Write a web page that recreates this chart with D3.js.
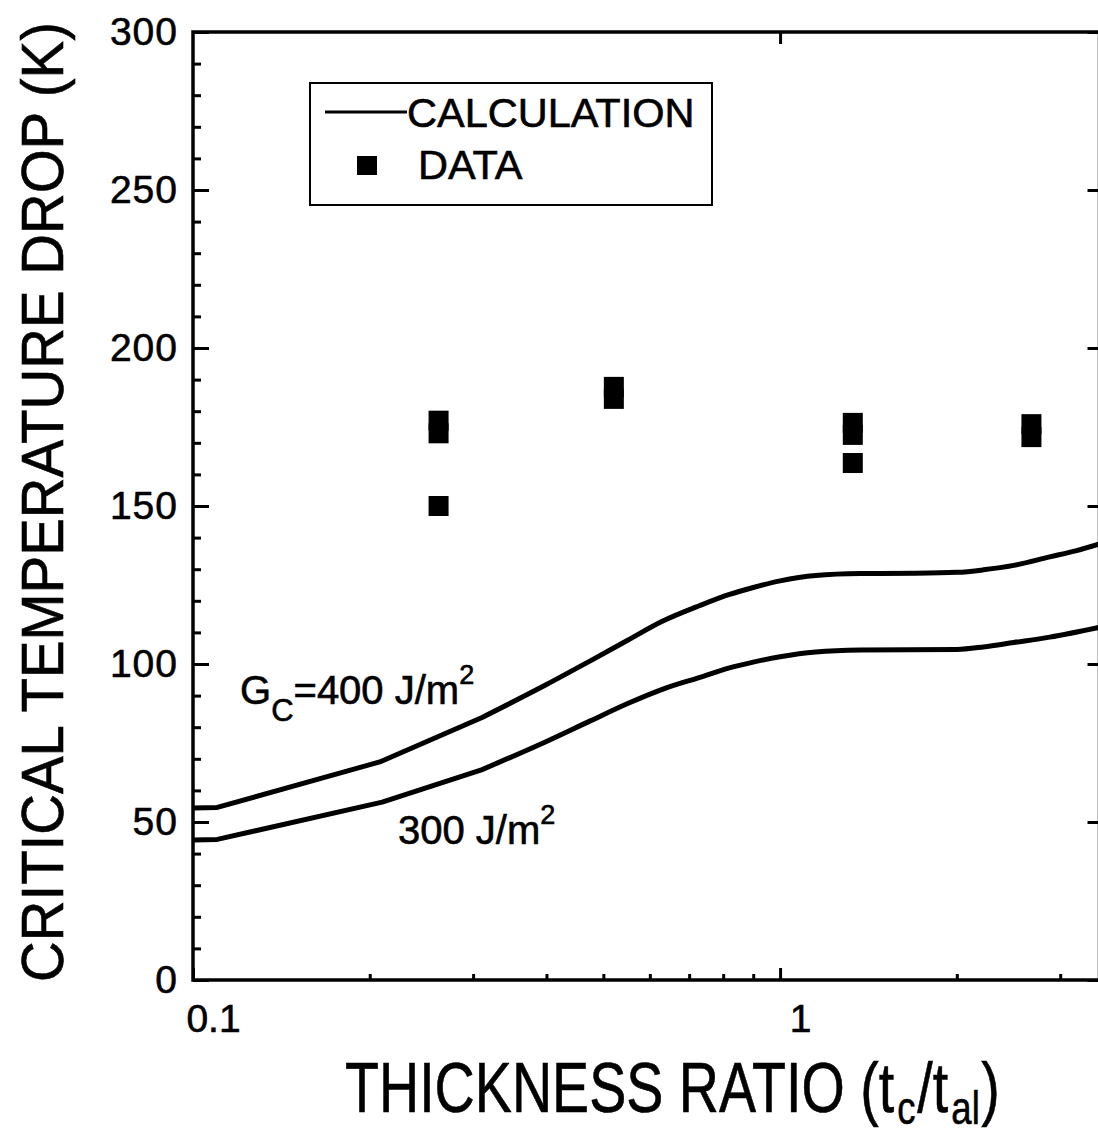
<!DOCTYPE html>
<html>
<head>
<meta charset="utf-8">
<script src="https://cdnjs.cloudflare.com/ajax/libs/d3/7.8.5/d3.min.js"></script>
<style>
body{margin:0;background:#fff}
svg{display:block;font-family:"Liberation Sans",Arial,Helvetica,sans-serif}
svg text{stroke:#000;stroke-width:0.6px}
</style>
</head>
<body>
<svg></svg>
<script>
//calculated curve for Gc = 400 J/m2
var ratio400 = [0.1,0.11,0.208,0.31,0.4,0.475,0.55,0.63,0.73,0.82,0.9,1.0,1.15,1.37,1.7,2.0,2.22,2.5,2.88,3.2,3.5]
var drop400  = [54.4,54.6,69,83,93.5,101,107.5,113.5,118.5,122,124.2,126.3,128,128.6,128.7,129,129.8,131.2,133.9,135.9,138]
//calculated curve for Gc = 300 J/m2
var ratio300 = [0.1,0.11,0.21,0.31,0.4,0.475,0.55,0.63,0.73,0.82,0.9,1.0,1.15,1.37,2.0,2.22,2.5,2.88,3.5]
var drop300  = [44.3,44.5,56.3,66.5,75.5,82,87.5,92,95.8,98.8,100.6,102.3,103.8,104.4,104.6,105.4,106.8,108.5,111.6]
//measured points
var dataRatio = [0.262,0.262,0.262,0.521,0.521,1.33,1.33,1.33,2.68,2.68]
var dataDrop  = [177,173,150,187.7,183.9,176.3,172.5,163.6,175.9,171.8]
//ticks
var yMajor = [0,50,100,150,200,250,300]
var yMinor = d3.range(0,301,10)
var xMajor = [0.1,1]
var xMinor = [0.2,0.3,0.4,0.5,0.6,0.7,0.8,0.9,2,3]

var screen = {width:1098,height:1131}
var plot = {left:193,right:1099.5,top:32,bottom:980}

var svg = d3.select("svg")
    .attr("width",screen.width)
    .attr("height",screen.height)

var xScale = d3.scaleLog()
    .domain([0.1,3.5])
    .range([plot.left,plot.right])
var yScale = d3.scaleLinear()
    .domain([0,300])
    .range([plot.bottom,plot.top])

var translate = function(x,y){return "translate("+x+","+y+")"}

var drawAxes = function()
{
    //minor ticks first, then the labelled ones
    svg.append("g")
        .attr("transform",translate(plot.left,0))
        .call(d3.axisLeft(yScale).tickValues(yMinor).tickSizeInner(-8).tickSizeOuter(0).tickFormat(""))
    svg.append("g")
        .classed("yaxis",true)
        .attr("transform",translate(plot.left,0))
        .call(d3.axisLeft(yScale).tickValues(yMajor).tickSizeInner(-16).tickSizeOuter(0).tickPadding(15))
    svg.append("g")
        .attr("transform",translate(plot.right,0))
        .call(d3.axisRight(yScale).tickValues(yMajor).tickSizeInner(-12).tickSizeOuter(0).tickFormat(""))

    svg.append("g")
        .attr("transform",translate(0,plot.bottom))
        .call(d3.axisBottom(xScale).tickValues(xMinor).tickSizeInner(-6).tickSizeOuter(0).tickFormat(""))
    svg.append("g")
        .classed("xaxis",true)
        .attr("transform",translate(0,plot.bottom))
        .call(d3.axisBottom(xScale).tickValues(xMajor).tickSizeInner(-12).tickSizeOuter(0).tickPadding(24)
              .tickFormat(function(d){return d<1?"0.1":"1"}))
    svg.append("g")
        .attr("transform",translate(0,plot.top))
        .call(d3.axisTop(xScale).tickValues([1]).tickSizeInner(-12).tickSizeOuter(0).tickFormat(""))

    svg.selectAll(".domain").remove()
    svg.selectAll(".tick line").attr("stroke","#000").attr("stroke-width",3)
    svg.selectAll(".yaxis text").attr("font-size",39).attr("font-family",null).attr("fill","#000")
        .attr("letter-spacing",1)
    svg.selectAll(".xaxis text").attr("font-size",39).attr("font-family",null).attr("fill","#000").attr("x",20)

    svg.append("rect")
        .attr("x",plot.left)
        .attr("y",plot.top)
        .attr("width",plot.right-plot.left)
        .attr("height",plot.bottom-plot.top)
        .attr("fill","none")
        .attr("stroke","#000")
        .attr("stroke-width",3.5)
}

//the left part of each curve has sharp bends, the right part is smooth
var drawCurves = function()
{
    var straight = d3.line()
        .x(function(d){return xScale(d[0])})
        .y(function(d){return yScale(d[1])})
    var smooth = d3.line()
        .curve(d3.curveMonotoneX)
        .x(function(d){return xScale(d[0])})
        .y(function(d){return yScale(d[1])})
    var curves = [d3.zip(ratio400,drop400), d3.zip(ratio300,drop300)]
    curves.forEach(function(pts)
    {
        var left = pts.filter(function(d){return d[0]<=0.31})
        var right = pts.filter(function(d){return d[0]>=0.31})
        svg.append("path")
            .attr("d",straight(left)+smooth(right).replace(/^M/,"L"))
            .attr("fill","none")
            .attr("stroke","#000")
            .attr("stroke-width",5)
            .attr("stroke-linejoin","round")
    })
}

var drawPoints = function()
{
    var size = 20
    svg.append("g")
        .selectAll("rect")
        .data(d3.zip(dataRatio,dataDrop))
        .enter()
        .append("rect")
        .attr("x",function(d){return xScale(d[0])-size/2})
        .attr("y",function(d){return yScale(d[1])-size/2})
        .attr("width",size)
        .attr("height",size)
        .attr("fill","#000")
}

var drawLegend = function()
{
    var legend = svg.append("g").classed("legend",true)
    legend.append("rect")
        .attr("x",310).attr("y",83)
        .attr("width",402).attr("height",122)
        .attr("fill","#fff").attr("stroke","#000").attr("stroke-width",2)
    legend.append("line")
        .attr("x1",325).attr("x2",407)
        .attr("y1",112).attr("y2",112)
        .attr("stroke","#000").attr("stroke-width",3)
    legend.append("text")
        .text("CALCULATION")
        .attr("x",407).attr("y",127)
        .attr("font-size",41.5)
    legend.append("rect")
        .attr("x",357).attr("y",156)
        .attr("width",20).attr("height",19)
        .attr("fill","#000")
    legend.append("text")
        .text("DATA")
        .attr("x",418).attr("y",179)
        .attr("font-size",41.5)
}

var drawLabels = function()
{
    var g1 = svg.append("text")
        .attr("x",240).attr("y",704)
        .attr("font-size",40)
    g1.append("tspan").text("G")
    g1.append("tspan").text("C").attr("font-size",31).attr("dy",17)
    g1.append("tspan").text("=400 J/m").attr("dy",-17)
    g1.append("tspan").text("2").attr("font-size",27).attr("dy",-20)

    var g2 = svg.append("text")
        .attr("x",398).attr("y",844)
        .attr("font-size",40)
    g2.append("tspan").text("300 J/m")
    g2.append("tspan").text("2").attr("font-size",27).attr("dy",-20)

    //x title, squeezed to the width it has in the picture
    var xt = svg.append("g")
    var xText = xt.append("text")
        .attr("font-size",70)
    xText.append("tspan").text("THICKNESS RATIO (t")
    xText.append("tspan").text("c").attr("font-size",46).attr("dy",12).attr("dx",4)
    xText.append("tspan").text("/t").attr("dy",-12).attr("dx",2)
    xText.append("tspan").text("al").attr("font-size",46).attr("dy",12).attr("dx",4)
    xText.append("tspan").text(")").attr("dy",-12).attr("dx",2)
    var w = xText.node().getBBox().width
    xt.attr("transform",translate(345,1112)+" scale("+(655/w)+",1)")

    svg.append("text")
        .text("CRITICAL TEMPERATURE DROP (K)")
        .attr("text-anchor","middle")
        .attr("font-size",60)
        .attr("textLength",960)
        .attr("lengthAdjust","spacingAndGlyphs")
        .attr("transform",translate(63,502)+" rotate(-90)")
}

drawCurves()
drawPoints()
drawAxes()
drawLegend()
drawLabels()
</script>
</body>
</html>
